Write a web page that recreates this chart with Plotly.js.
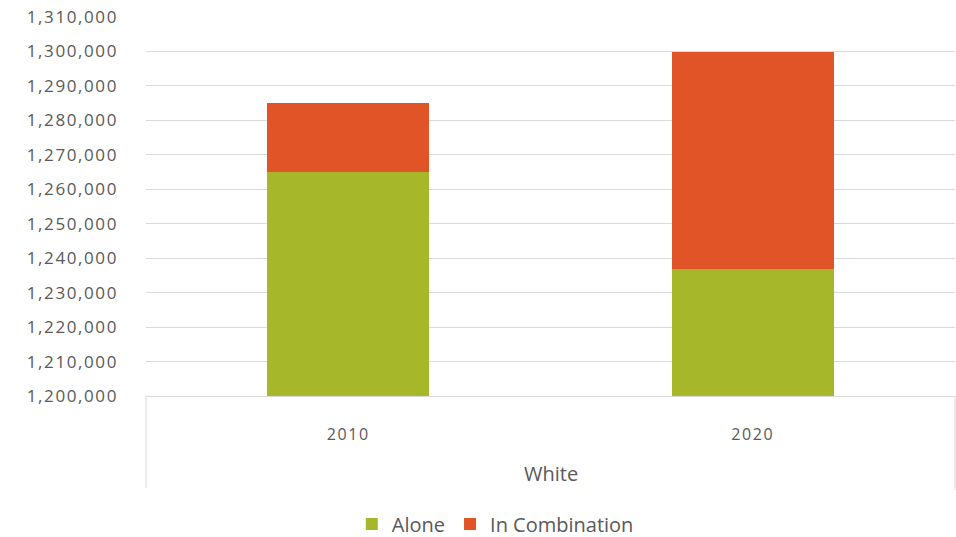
<!DOCTYPE html>
<html>
<head>
<meta charset="utf-8">
<script src="https://cdn.plot.ly/plotly-3.0.1.min.js"></script>
<style>
html,body{margin:0;padding:0;background:#fff;}
#chart{width:956px;height:537px;}
.ytick text{letter-spacing:1.6px;}
.xtick text{letter-spacing:1.6px;}
</style>
</head>
<body>
<div id="chart"></div>
<script>
const categories = ["2010", "2020"];
const groupLabel = "White";
const seriesNames = ["Alone", "In Combination"];
const alone = [1265000, 1237000];
const inCombination = [20000, 62700];
const yTickVals = [1200000,1210000,1220000,1230000,1240000,1250000,1260000,1270000,1280000,1290000,1300000,1310000];

const colors = ["#A6B829", "#E05427"];
const textColor = "#595959";
const gridColor = "#D9D9D9";
const fontFam = "'Open Sans', 'DejaVu Sans', sans-serif";

const traces = [
  {type:"bar", name:seriesNames[0], x:categories, y:alone, marker:{color:colors[0]}, hoverinfo:"skip"},
  {type:"bar", name:seriesNames[1], x:categories, y:inCombination, marker:{color:colors[1]}, hoverinfo:"skip"}
];

const layout = {
  width:956, height:537,
  margin:{l:146, r:1, t:17, b:141, autoexpand:false},
  paper_bgcolor:"#fff", plot_bgcolor:"#fff",
  barmode:"stack", bargap:0.6,
  font:{family:fontFam, color:textColor},
  showlegend:true,
  legend:{orientation:"h", xref:"container", yref:"container", x:0.368, xanchor:"left", y:0.024, yanchor:"middle",
          font:{size:20, color:textColor, family:fontFam}, traceorder:"normal", itemwidth:30,
          bgcolor:"rgba(0,0,0,0)"},
  xaxis:{type:"category", showline:true, linecolor:gridColor, linewidth:1,
         ticks:"", tickfont:{size:16, color:textColor}, ticklabelstandoff:24,
         showgrid:false, zeroline:false, fixedrange:true},
  yaxis:{range:[1200000,1310000], tickvals:yTickVals, tickformat:",d",
         showgrid:true, gridcolor:gridColor, gridwidth:1, zeroline:false, showline:false,
         ticks:"", tickfont:{size:17, color:textColor}, ticklabelstandoff:27, fixedrange:true},
  annotations:[
    {text:groupLabel, xref:"paper", yref:"paper", x:0.5, y:-0.204, xanchor:"center", yanchor:"middle",
     showarrow:false, font:{size:20, color:textColor, family:fontFam}}
  ],
  shapes:[
    {type:"line", xref:"paper", yref:"paper", x0:0, x1:0, y0:0, y1:-0.243, line:{color:gridColor, width:1}},
    {type:"line", xref:"paper", yref:"paper", x0:1, x1:1, y0:0, y1:-0.248, line:{color:gridColor, width:1}}
  ]
};

Plotly.newPlot("chart", traces, layout, {displayModeBar:false, staticPlot:true});
</script>
</body>
</html>
